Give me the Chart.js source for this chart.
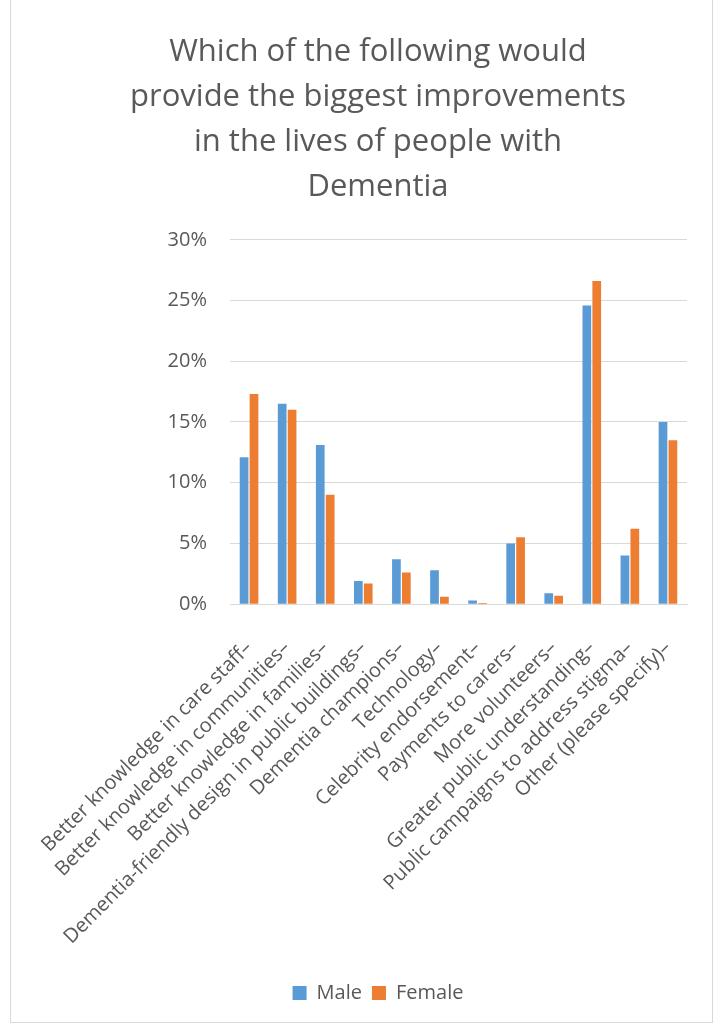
<!DOCTYPE html>
<html>
<head>
<meta charset="utf-8">
<script src="https://cdn.jsdelivr.net/npm/chart.js@4"></script>
<style>
  html, body { margin: 0; padding: 0; background: #fff; }
  .frame {
    position: absolute; left: 10px; top: -1px;
    width: 701px; height: 1022px;
    border: 1px solid #d9d9d9;
  }
  .wrap { position: absolute; left: 0; top: 0; width: 717px; height: 1025px; }
</style>
</head>
<body>
<div class="frame"></div>
<div class="wrap"><canvas id="chart"></canvas></div>
<script>
  // answer options (Excel adds the trailing dash)
  const categories = [
    'Better knowledge in care staff–',
    'Better knowledge in communities–',
    'Better knowledge in families–',
    'Dementia-friendly design in public buildings–',
    'Dementia champions–',
    'Technology–',
    'Celebrity endorsement–',
    'Payments to carers–',
    'More volunteers–',
    'Greater public understanding–',
    'Public campaigns to address stigma–',
    'Other (please specify)–'
  ];

  // percent of respondents
  const maleValues = [12.1, 16.5, 13.1, 1.9, 3.7, 2.8, 0.3, 5.0, 0.9, 24.6, 4.0, 15.0];
  const femaleValues = [17.3, 16.0, 9.0, 1.7, 2.6, 0.6, 0.1, 5.5, 0.7, 26.6, 6.2, 13.5];

  const titleLines = [
    'Which of the following would',
    'provide the biggest improvements',
    'in the lives of people with',
    'Dementia'
  ];

  const fontFamily = '"Open Sans", "Liberation Sans", sans-serif';
  const textColor = '#595959';

  const ctx = document.getElementById('chart').getContext('2d');
  new Chart(ctx, {
    type: 'bar',
    data: {
      labels: categories,
      datasets: [
        {
          label: 'Male',
          data: maleValues,
          backgroundColor: '#5b9bd5',
          categoryPercentage: 0.52,
          barPercentage: 0.88
        },
        {
          label: 'Female',
          data: femaleValues,
          backgroundColor: '#ed7d31',
          categoryPercentage: 0.52,
          barPercentage: 0.88
        }
      ]
    },
    options: {
      responsive: true,
      maintainAspectRatio: false,
      animation: false,
      layout: {
        padding: { left: 69, right: 30, top: 30, bottom: 12 }
      },
      plugins: {
        title: {
          display: true,
          text: titleLines,
          color: textColor,
          font: { family: fontFamily, size: 31, weight: 'normal', lineHeight: 1.45 },
          padding: { top: 0, bottom: 30 }
        },
        legend: {
          position: 'bottom',
          labels: {
            color: textColor,
            font: { family: fontFamily, size: 20 },
            boxWidth: 14,
            boxHeight: 14,
            padding: 10
          }
        },
        tooltip: { enabled: false }
      },
      scales: {
        x: {
          grid: { display: false },
          border: { color: '#d9d9d9' },
          ticks: {
            color: textColor,
            font: { family: fontFamily, size: 20 },
            maxRotation: 45,
            minRotation: 45,
            autoSkip: false,
            padding: 24
          }
        },
        y: {
          min: 0,
          max: 30,
          grid: { color: '#d9d9d9', drawTicks: false },
          border: { display: false },
          afterFit: scale => { scale.width = 161; },
          ticks: {
            stepSize: 5,
            color: textColor,
            font: { family: fontFamily, size: 20 },
            padding: 23,
            callback: v => v + '%'
          }
        }
      }
    }
  });
</script>
</body>
</html>
